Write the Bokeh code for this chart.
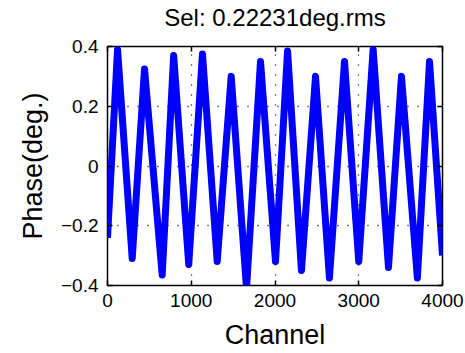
from bokeh.plotting import figure
from bokeh.models import FixedTicker, LinearAxis, Range1d, CustomLabelingPolicy
from bokeh.embed import file_html
from bokeh.resources import INLINE

# Data (peaks / troughs of the phase trace)
channel = [0, 120, 295, 442, 653, 790, 970, 1134, 1310, 1477, 1660, 1827,
           2006, 2150, 2316, 2484, 2650, 2830, 3000, 3172, 3355, 3510, 3700,
           3845, 4000]
phase = [-0.24, 0.39, -0.31, 0.325, -0.365, 0.37, -0.33, 0.375, -0.32, 0.30,
         -0.41, 0.35, -0.32, 0.385, -0.35, 0.30, -0.375, 0.35, -0.32, 0.39,
         -0.34, 0.30, -0.375, 0.35, -0.30]

x_ticks = [0, 1000, 2000, 3000, 4000]
x_tick_labels = ["0", "1000", "2000", "3000", "4000"]
y_ticks = [-0.4, -0.2, 0, 0.2, 0.4]
y_tick_labels = ["\u22120.4", "\u22120.2", "0", "0.2", "0.4"]

title_text = "Sel: 0.22231deg.rms"
x_label = "Channel"
y_label = "Phase(deg.)"

FONT = "Liberation Sans"

p = figure(width=465, height=353, output_backend="svg", toolbar_location=None,
           x_range=Range1d(0, 4000), y_range=Range1d(-0.4, 0.4),
           min_border_left=107, min_border_right=23, min_border_top=45,
           min_border_bottom=68, x_axis_label=x_label, y_axis_label=y_label)

p.outline_line_color = "black"
p.outline_line_width = 1.5
p.background_fill_color = "white"
p.border_fill_color = "white"

for ax in p.xaxis:
    ax.ticker = FixedTicker(ticks=x_ticks)
    ax.major_label_overrides = {t: l for t, l in zip(x_ticks, x_tick_labels)}
for ax in p.yaxis:
    ax.ticker = FixedTicker(ticks=y_ticks)
    ax.major_label_overrides = {t: l for t, l in zip(y_ticks, y_tick_labels)}

for ax in list(p.xaxis) + list(p.yaxis):
    ax.axis_line_color = None
    ax.major_tick_in = 5
    ax.major_tick_out = 0
    ax.major_tick_line_color = "black"
    ax.major_tick_line_width = 1.5
    ax.minor_tick_line_color = None
    ax.major_label_text_font = FONT
    ax.major_label_text_font_size = "19px"
    ax.major_label_text_color = "black"
    ax.axis_label_text_font = FONT
    ax.axis_label_text_font_size = "27px"
    ax.axis_label_text_font_style = "normal"
    ax.axis_label_text_color = "black"

p.xaxis.major_label_standoff = 8
p.yaxis.major_label_standoff = 9
p.xaxis.axis_label_standoff = 10
p.yaxis.axis_label_standoff = 10

# box ticks on top and right (tick labels suppressed); top axis carries the title
hide_all = CustomLabelingPolicy(code="""
    for (const i of indices) { indices.unset(i) }
    return indices
""")
top_ax = LinearAxis(ticker=FixedTicker(ticks=x_ticks), major_label_policy=hide_all,
                    axis_label=title_text)
right_ax = LinearAxis(ticker=FixedTicker(ticks=y_ticks), major_label_policy=hide_all)
for ax in (top_ax, right_ax):
    ax.axis_line_color = None
    ax.major_tick_in = 5
    ax.major_tick_out = 0
    ax.major_tick_line_color = "black"
    ax.major_tick_line_width = 1.5
    ax.minor_tick_line_color = None
    ax.major_label_text_font_size = "1px"
    ax.major_label_standoff = 0
    ax.axis_label_standoff = 0
top_ax.axis_label_text_font = FONT
top_ax.axis_label_text_font_size = "24px"
top_ax.axis_label_text_font_style = "normal"
top_ax.axis_label_text_color = "black"
top_ax.axis_label_standoff = 12
p.add_layout(top_ax, "above")
p.add_layout(right_ax, "right")

for g in (p.xgrid, p.ygrid):
    g.grid_line_color = "black"
    g.grid_line_dash = "1 9"
    g.grid_line_width = 1.3
p.xgrid.ticker = FixedTicker(ticks=[1000, 2000, 3000])
p.ygrid.ticker = FixedTicker(ticks=[-0.2, 0, 0.2])

p.line(channel, phase, line_color="#0000FF", line_width=7, line_join="round")

open("out.html", "w").write(file_html(p, INLINE))
